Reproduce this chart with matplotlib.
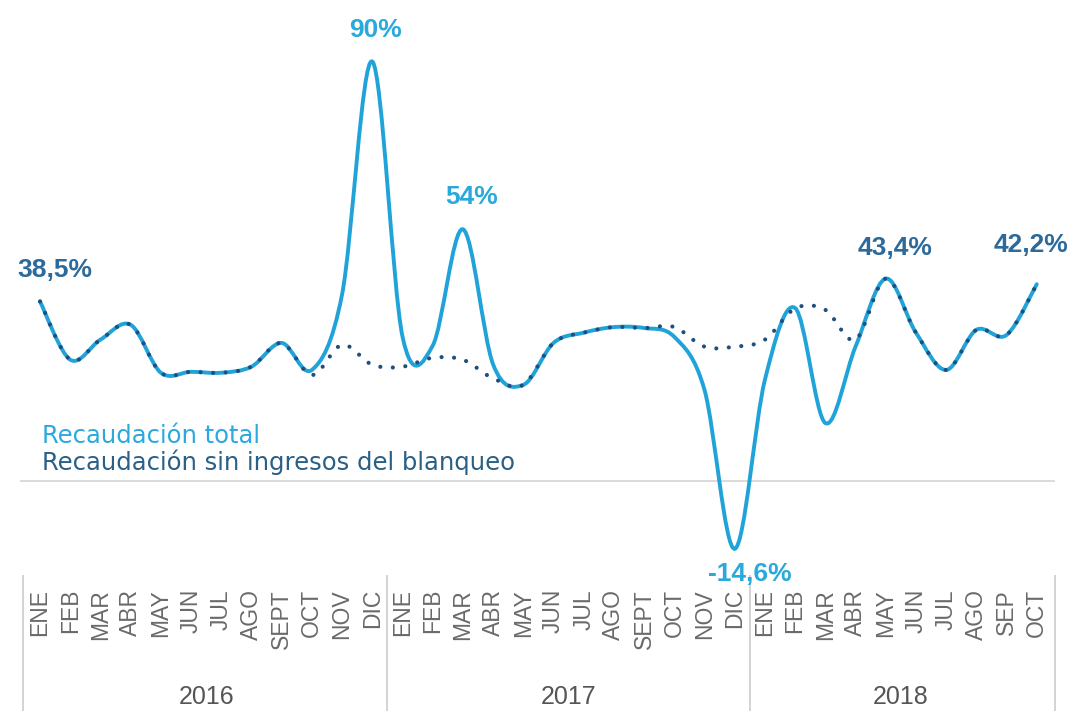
import matplotlib
matplotlib.use("Agg")
import matplotlib.pyplot as plt
from matplotlib.path import Path
from matplotlib.patches import PathPatch

plt.rcParams['font.family'] = ['Liberation Sans', 'DejaVu Sans']

months = ["ENE", "FEB", "MAR", "ABR", "MAY", "JUN", "JUL", "AGO", "SEPT", "OCT", "NOV", "DIC",
          "ENE", "FEB", "MAR", "ABR", "MAY", "JUN", "JUL", "AGO", "SEPT", "OCT", "NOV", "DIC",
          "ENE", "FEB", "MAR", "ABR", "MAY", "JUN", "JUL", "AGO", "SEP", "OCT"]
years = ["2016", "2017", "2018"]
year_months = [12, 12, 10]

total = [38.5, 26.0, 30.3, 33.5, 23.2, 23.4, 23.2, 24.5, 29.6, 23.8, 40.0, 90.0,
         31.0, 29.0, 54.0, 25.0, 20.6, 29.6, 31.8, 33.0, 32.8, 30.9, 19.5, -14.6,
         21.7, 37.1, 12.4, 28.8, 43.4, 31.8, 23.8, 32.4, 31.3, 42.2]
sin_blanqueo = [38.5, 26.0, 30.3, 33.5, 23.2, 23.4, 23.2, 24.5, 29.6, 22.7, 29.2, 24.9,
                24.5, 26.4, 26.0, 22.0, 20.6, 29.6, 31.8, 33.0, 32.8, 33.0, 28.8, 28.8,
                30.3, 37.0, 36.7, 30.3, 43.4, 31.8, 23.8, 32.4, 31.3, 42.2]

# (index, text, colour, offset in points)
labels = [(0, "38,5%", "#2b6a9b", (11, 23)),
          (11, "90%", "#29a9dc", (2, 23)),
          (14, "54%", "#29a9dc", (6, 23)),
          (23, "-14,6%", "#29a9dc", (11, -18)),
          (28, "43,4%", "#2b6a9b", (6.5, 22)),
          (33, "42,2%", "#2b6a9b", (-4, 28))]

C_TOTAL = "#1fa3d8"
C_SIN = "#1f4f7f"


def smooth_path(ys):
    # excel-like smoothed line: cubic bezier segments through every point
    pts = list(zip(range(len(ys)), ys))
    verts = [pts[0]]
    codes = [Path.MOVETO]
    n = len(pts)
    for i in range(n - 1):
        p0 = pts[max(i - 1, 0)]
        p1 = pts[i]
        p2 = pts[i + 1]
        p3 = pts[min(i + 2, n - 1)]
        c1 = (p1[0] + (p2[0] - p0[0]) / 6, p1[1] + (p2[1] - p0[1]) / 6)
        c2 = (p2[0] - (p3[0] - p1[0]) / 6, p2[1] - (p3[1] - p1[1]) / 6)
        verts += [c1, c2, p2]
        codes += [Path.CURVE4] * 3
    return Path(verts, codes)


fig = plt.figure(figsize=(10.73, 7.11), dpi=100)
ax = fig.add_axes([0, 0, 1, 1])
ax.set_xlim(-1.325, 34.2)
ax.set_ylim(-49.4, 103.2)
ax.axis("off")

ax.hlines(0, -0.66, 33.6, color="#d4d4d4", lw=1.2, zorder=1)

ax.add_patch(PathPatch(smooth_path(sin_blanqueo), fill=False, edgecolor=C_SIN, lw=3.0,
                       linestyle=(0, (0.01, 3.0)), capstyle="round", zorder=3))
ax.add_patch(PathPatch(smooth_path(total), fill=False, edgecolor=C_TOTAL, lw=2.8,
                       capstyle="round", joinstyle="round", zorder=2))

for i, txt, col, off in labels:
    ax.annotate(txt, (i, total[i]), xytext=off, textcoords="offset points",
                ha="center", va="center", fontsize=19, fontweight="bold", color=col)

ax.text(0.066, 8.15, "Recaudación total", color="#29a9dc", fontsize=17.5, va="baseline",
        family=["DejaVu Sans"])
ax.text(0.066, 2.36, "Recaudación sin ingresos del blanqueo", color="#2a5f86",
        fontsize=17.5, va="baseline", family=["DejaVu Sans"])

for i, m in enumerate(months):
    ax.text(i, -23.2, m, rotation=90, ha="center", va="top", fontsize=16.5, color="#6a6a6a")

start = 0
bounds = [-0.56]
for y, n in zip(years, year_months):
    ax.text(start + (n - 1) / 2, -46.4, y, ha="center", va="center", fontsize=18,
            color="#555555")
    start += n
    bounds.append(start - 0.5 if start < len(months) else 33.6)
ax.vlines(bounds, -49.4, -20.2, color="#cccccc", lw=1.2)

fig.savefig("out.png", dpi=100)
